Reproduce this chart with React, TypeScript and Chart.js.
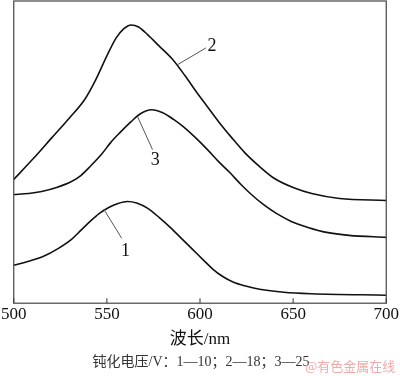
import React, { useEffect, useRef } from "react";
import { Chart, registerables } from "chart.js";

Chart.register(...registerables);

// Curve 1 (10 V)
const wavelength1 = [500, 508, 516, 524, 531, 536, 541, 546, 551, 556, 561, 566, 572, 578, 584, 590, 596, 602, 607, 612, 618, 625, 632, 645, 660, 700];
const intensity1 = [38, 42, 47, 55, 64, 73, 82, 90, 96, 100, 102, 100.5, 95, 86, 76, 65, 54, 43, 34, 27, 21, 17, 14, 11, 9.5, 8];
// Curve 2 (18 V)
const wavelength2 = [500, 510, 520, 530, 538, 544, 550, 555, 559, 563, 567, 572, 578, 585, 592, 598, 604, 610, 617, 624, 632, 640, 650, 660, 675, 700];
const intensity2 = [124, 144, 165, 186, 204, 224, 248, 266, 275, 279, 277, 269, 258, 245, 228, 212, 197, 182, 166, 151, 137, 125, 116, 110, 105, 103];
// Curve 3 (25 V)
const wavelength3 = [500, 508, 515, 523, 531, 536, 541, 547, 552, 557, 563, 568, 574, 580, 586, 591, 597, 604, 610, 616, 622, 627, 634, 641, 649, 658, 668, 680, 700];
const intensity3 = [109, 110, 112, 116, 122, 128, 137, 149, 161, 171, 182, 190, 194, 191, 184, 177, 167, 154, 142, 131, 119, 110, 99, 90, 82, 76, 71, 68, 66];

const xTicks = [500, 550, 600, 650, 700];
const curveLabels = ["1", "2", "3"];
// label position and leader line [x1, y1, x2, y2] in data units
const labelPos = [
  [560, 52.5],
  [606.4, 257.5],
  [576, 143],
];
const leaders = [
  [548.4, 94, 558, 65],
  [587.8, 239, 603.2, 256],
  [566.5, 187, 574.5, 154],
];
const xTitle = "波长/nm";
const caption = "钝化电压/V：1—10；2—18；3—25";
const watermark = "@有色金属在线";

const SERIF = "'Liberation Serif', 'Noto Sans CJK SC', serif";

const decorPlugin = {
  id: "decor",
  afterDraw(chart: any) {
    const { ctx, chartArea } = chart;
    const xs = chart.scales.x;
    const ys = chart.scales.y;
    ctx.save();
    ctx.strokeStyle = "#444";
    ctx.lineWidth = 1.2;
    ctx.strokeRect(chartArea.left, chartArea.top, chartArea.right - chartArea.left, chartArea.bottom - chartArea.top);
    ctx.lineWidth = 1;
    ctx.strokeStyle = "#333";
    xTicks.forEach((t) => {
      const px = xs.getPixelForValue(t);
      ctx.beginPath();
      ctx.moveTo(px, chartArea.bottom);
      ctx.lineTo(px, chartArea.bottom - 5);
      ctx.stroke();
    });
    ctx.strokeStyle = "#555";
    ctx.lineWidth = 1;
    leaders.forEach((l) => {
      ctx.beginPath();
      ctx.moveTo(xs.getPixelForValue(l[0]), ys.getPixelForValue(l[1]));
      ctx.lineTo(xs.getPixelForValue(l[2]), ys.getPixelForValue(l[3]));
      ctx.stroke();
    });
    ctx.fillStyle = "#111";
    ctx.font = "18px " + SERIF;
    ctx.textAlign = "center";
    ctx.textBaseline = "middle";
    curveLabels.forEach((t, i) => {
      ctx.fillText(t, xs.getPixelForValue(labelPos[i][0]), ys.getPixelForValue(labelPos[i][1]));
    });
    ctx.fillStyle = "#333";
    ctx.font = "14px " + SERIF;
    ctx.fillText(caption, 201, 362);
    ctx.fillStyle = "rgba(236,140,140,0.75)";
    ctx.font = "13px 'Noto Sans CJK SC', sans-serif";
    ctx.textAlign = "left";
    ctx.fillText(watermark, 305, 366);
    ctx.restore();
  },
};

export default function App() {
  const ref = useRef<HTMLCanvasElement>(null);
  useEffect(() => {
    const mk = (w: number[], v: number[]) => w.map((x, i) => ({ x, y: v[i] }));
    const ds = (data: any) => ({
      data,
      borderColor: "#111",
      borderWidth: 1.6,
      pointRadius: 0,
      fill: false,
      cubicInterpolationMode: "monotone" as const,
    });
    const chart = new Chart(ref.current!, {
      type: "line",
      data: {
        datasets: [
          ds(mk(wavelength1, intensity1)),
          ds(mk(wavelength2, intensity2)),
          ds(mk(wavelength3, intensity3)),
        ],
      },
      options: {
        animation: false,
        responsive: true,
        maintainAspectRatio: false,
        layout: { padding: { left: 12, right: 12, top: 1, bottom: 26 } },
        plugins: { legend: { display: false }, tooltip: { enabled: false }, title: { display: false } },
        scales: {
          x: {
            type: "linear",
            min: 500,
            max: 700,
            afterBuildTicks: (s: any) => {
              s.ticks = xTicks.map((v) => ({ value: v }));
            },
            grid: { display: false, drawTicks: false },
            border: { display: false },
            ticks: { color: "#111", padding: 1, font: { family: SERIF, size: 17 }, maxRotation: 0 },
            title: {
              display: true,
              text: xTitle,
              color: "#111",
              font: { family: SERIF, size: 17 },
              padding: { top: 4, bottom: 0 },
            },
          },
          y: { display: false, min: 0, max: 303 },
        },
      },
      plugins: [decorPlugin],
    });
    return () => chart.destroy();
  }, []);
  return (
    <div style={{ position: "fixed", left: 0, top: 0, width: 400, height: 376, background: "#fff" }}>
      <canvas ref={ref} />
    </div>
  );
}
